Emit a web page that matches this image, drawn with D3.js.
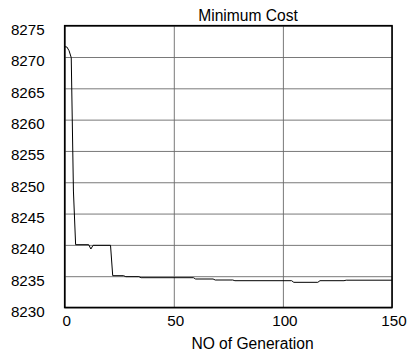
<!DOCTYPE html>
<html>
<head>
<meta charset="utf-8">
<script src="https://cdn.jsdelivr.net/npm/d3@7"></script>
<style>
  html, body { margin: 0; padding: 0; background: #fff; }
  text { font-family: "Liberation Sans", Arial, Helvetica, sans-serif; fill: #000; }
</style>
</head>
<body>
<svg id="chart" width="409" height="354"></svg>
<script>
// ---- data ----
const generations = [0, 1, 2, 3, 4, 5, 11, 12, 13, 21, 22, 27, 28, 34, 35, 59, 60, 68, 69, 77, 78, 104, 105, 116, 117, 128, 129, 150];
const minCost     = [8271.65, 8271.6, 8271.0, 8269.9, 8248.6, 8240.03, 8240.03, 8239.34, 8239.93, 8239.93, 8235.08, 8235.08,
                     8234.92, 8234.92, 8234.76, 8234.76, 8234.55, 8234.55, 8234.39, 8234.39, 8234.28, 8234.28,
                     8234.02, 8234.02, 8234.28, 8234.28, 8234.36, 8234.36];
const xTicks = [0, 50, 100, 150];
const yTicks = [8230, 8235, 8240, 8245, 8250, 8255, 8260, 8265, 8270, 8275];
const titleText = "Minimum Cost";
const xLabelText = "NO of Generation";

(function () {
// ---- layout ----
const svg = d3.select("#chart");
svg.append("rect").attr("width", 409).attr("height", 354).attr("fill", "#fff");

const pL = 64.7, pR = 392, pT = 25.7, pB = 307.5;
const x = d3.scaleLinear().domain([0, 150]).range([pL, pR]);
const y = d3.scaleLinear().domain([8230, 8275]).range([pB, pT]);

// grid lines
const gridY = svg.append("g").attr("transform", `translate(${pL},0)`)
  .call(d3.axisLeft(y).tickValues(yTicks).tickSize(-(pR - pL)).tickFormat(""));
gridY.select(".domain").remove();
gridY.selectAll("line").attr("stroke", "#6a6a6a").attr("stroke-width", 0.9);

const gridX = svg.append("g").attr("transform", `translate(0,${pB})`)
  .call(d3.axisBottom(x).tickValues(xTicks).tickSize(-(pB - pT)).tickFormat(""));
gridX.select(".domain").remove();
gridX.selectAll("line").attr("stroke", "#6a6a6a").attr("stroke-width", 0.9);

// tick labels
const yAxis = svg.append("g").attr("transform", `translate(${pL},0)`)
  .call(d3.axisLeft(y).tickValues(yTicks).tickSize(0).tickPadding(20).tickFormat(d3.format("d")));
yAxis.select(".domain").remove();
yAxis.selectAll("text").attr("font-size", "15.2px").attr("dy", "0.32em").attr("y", 4)
  .style("font-family", '"Liberation Sans", Arial, sans-serif');

const xAxis = svg.append("g").attr("transform", `translate(0,${pB})`)
  .call(d3.axisBottom(x).tickValues(xTicks).tickSize(0).tickPadding(7.5).tickFormat(d3.format("d")));
xAxis.select(".domain").remove();
xAxis.selectAll("text").attr("font-size", "15.2px").attr("dx", 1.5)
  .style("font-family", '"Liberation Sans", Arial, sans-serif');

// data line
const pts = generations.map((g, i) => [g, minCost[i]]);
svg.append("path")
  .datum(pts)
  .attr("fill", "none")
  .attr("stroke", "#000")
  .attr("stroke-width", 1)
  .attr("d", d3.line().x(d => x(d[0])).y(d => y(d[1])));

// frame
svg.append("rect")
  .attr("x", pL).attr("y", pT)
  .attr("width", pR - pL).attr("height", pB - pT)
  .attr("fill", "none").attr("stroke", "#000").attr("stroke-width", 1.6);

// title & axis label
svg.append("text").attr("x", 248).attr("y", 20.5).attr("text-anchor", "middle")
  .attr("font-size", "15.6px").text(titleText);
svg.append("text").attr("x", 252.5).attr("y", 349).attr("text-anchor", "middle")
  .attr("font-size", "15.6px").text(xLabelText);
})();
</script>
</body>
</html>
